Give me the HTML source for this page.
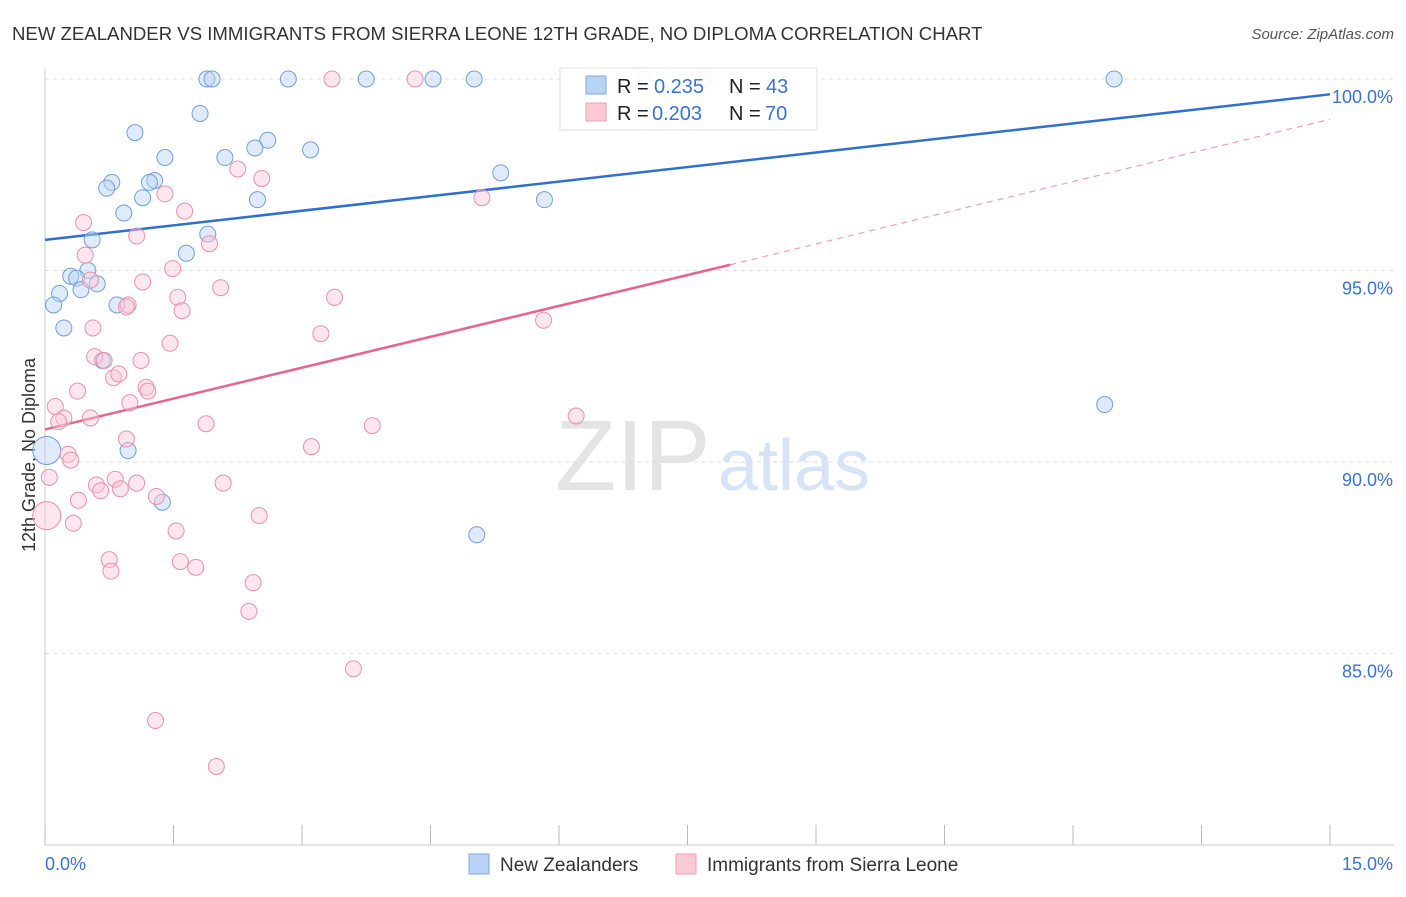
<!DOCTYPE html>
<html><head><meta charset="utf-8"><style>
body{margin:0;background:#fff;font-family:"Liberation Sans",sans-serif;}
svg text{font-family:"Liberation Sans",sans-serif;}
</style></head><body>
<svg width="1406" height="892" id="chart">
<text x="12" y="40" font-size="18.6" fill="#333">NEW ZEALANDER VS IMMIGRANTS FROM SIERRA LEONE 12TH GRADE, NO DIPLOMA CORRELATION CHART</text>
<text x="1394" y="39" font-size="15" fill="#555" text-anchor="end" font-style="italic">Source: ZipAtlas.com</text>
<text x="555" y="490" font-size="100" fill="#e4e4e4" font-family="Liberation Serif">ZIP</text>
<text x="718" y="490" font-size="72" fill="#d6e4f5">atlas</text>
<text transform="translate(35,455) rotate(-90)" font-size="18" fill="#333" text-anchor="middle">12th Grade, No Diploma</text>
<g id="grid"></g><g id="axes"></g><g id="trend"></g><g id="pts"></g>
<g>
<rect x="560" y="68" width="257" height="62" fill="#fff" stroke="#ddd" opacity="0.92"/>
<rect x="586" y="76" width="20" height="18" fill="#b8d3f5" stroke="#7fa9e0"/>
<rect x="586" y="103" width="20" height="18" fill="#fbc8d6" stroke="#eda0b6"/>
<text x="617" y="93" font-size="20" fill="#222">R =</text>
<text x="654" y="93" font-size="20" fill="#3a72d0">0.235</text>
<text x="729" y="93" font-size="20" fill="#222">N =</text>
<text x="766" y="93" font-size="20" fill="#3a72d0">43</text>
<text x="617" y="120" font-size="20" fill="#222">R =</text>
<text x="652" y="120" font-size="20" fill="#3a72d0">0.203</text>
<text x="729" y="120" font-size="20" fill="#222">N =</text>
<text x="765" y="120" font-size="20" fill="#3a72d0">70</text>
</g>
<g>
<rect x="469" y="854" width="20" height="20" fill="#b8d3f5" stroke="#7fa9e0"/>
<text x="500" y="871" font-size="19" fill="#333">New Zealanders</text>
<rect x="676" y="854" width="20" height="20" fill="#fbc8d6" stroke="#eda0b6"/>
<text x="707" y="871" font-size="19" fill="#333">Immigrants from Sierra Leone</text>
</g>
</svg>
<script>
const yTicks=[100,95,90,85];
const xTickLabels=["0.0%","15.0%"];
const blueX=[1.89,1.95,2.84,3.75,4.53,5.01,6.98,7.68,12.48,1.81,1.05,2.6,2.45,3.1,1.4,2.1,0.78,0.72,1.28,1.22,1.14,0.92,2.48,5.32,5.83,1.9,0.55,1.65,0.5,0.3,0.37,0.61,0.42,0.17,0.1,0.22,0.67,0.97,0.84,1.37,5.04,12.37,0.02];
const blueY=[100,100,100,100,100,100,100,100,100,99.1,98.6,98.4,98.2,98.15,97.95,97.95,97.3,97.15,97.35,97.3,96.9,96.5,96.85,97.55,96.85,95.95,95.8,95.45,95.0,94.85,94.8,94.65,94.5,94.4,94.1,93.5,92.65,90.3,94.1,88.95,88.1,91.5,90.3];
const pinkX=[3.35,4.32,7.7,1.4,2.25,2.53,1.63,0.45,1.07,1.92,5.1,0.47,1.49,1.14,0.53,1.55,0.97,0.95,1.6,2.05,3.38,0.56,3.22,1.46,5.82,0.58,0.69,1.12,0.8,0.86,1.18,1.2,0.38,0.99,0.12,0.22,0.53,0.16,1.88,3.82,6.2,0.95,0.27,0.3,3.11,0.05,2.08,0.6,0.82,1.07,0.65,0.88,1.3,0.39,2.5,0.02,0.33,1.53,0.75,0.77,1.58,1.76,2.43,2.38,3.6,1.29,2.0];
const pinkY=[100,100,100,97.0,97.65,97.4,96.55,96.25,95.9,95.7,96.9,95.4,95.05,94.7,94.75,94.3,94.1,94.05,93.95,94.55,94.3,93.5,93.35,93.1,93.7,92.75,92.65,92.65,92.2,92.3,91.95,91.85,91.85,91.55,91.45,91.15,91.15,91.05,91.0,90.95,91.2,90.6,90.2,90.05,90.4,89.6,89.45,89.4,89.55,89.45,89.25,89.3,89.1,89.0,88.6,88.6,88.4,88.2,87.45,87.15,87.4,87.25,86.85,86.1,84.6,83.25,82.05];
const blueLine=[0,95.8,15,99.6];
const pinkLine=[0,90.85,8,95.15,15,98.95];
const NS="http://www.w3.org/2000/svg";
const sx=v=>45+v*(1285/15), sy=v=>79+(100-v)*38.3;
function mk(tag,attrs,parent){const e=document.createElementNS(NS,tag);for(const k in attrs)e.setAttribute(k,attrs[k]);document.getElementById(parent).appendChild(e);return e;}
yTicks.forEach(t=>{
 const l=mk('line',{x1:45,x2:1394,y1:sy(t),y2:sy(t),stroke:'#ddd','stroke-dasharray':'4,4'},'grid');
 
 
 const tx=mk('text',{x:1393,y:sy(t)+24,'font-size':18,fill:'#3a72d0','text-anchor':'end'},'grid');
 tx.textContent=t.toFixed(1)+'%';
 
 
});
mk('line',{x1:45,x2:45,y1:68,y2:845,stroke:'#ccc'},'axes');
mk('line',{x1:45,x2:1394,y1:845,y2:845,stroke:'#ccc'},'axes');
for(let i=0;i<=10;i++){const t=mk('line',{x1:sx(i*1.5),x2:sx(i*1.5),y1:825,y2:845,stroke:'#bbb'},'axes');
 
 }
const xl0=mk('text',{x:45,y:870,'font-size':18,fill:'#3a72d0'},'axes');xl0.textContent=xTickLabels[0];


const xl1=mk('text',{x:1393,y:870,'font-size':18,fill:'#3a72d0','text-anchor':'end'},'axes');xl1.textContent=xTickLabels[1];


function dot(x,y,r,fill,stroke){const c=mk('circle',{cx:sx(x),cy:sy(y),r:r,fill:fill,'fill-opacity':0.45,stroke:stroke,'stroke-width':1},'pts');return c;}
blueX.forEach((x,i)=>{const c=dot(x,blueY[i],i==blueX.length-1?14:8,'#b8d3f5','#6f9fdc');
 
 });
pinkX.forEach((x,i)=>{const c=dot(x,pinkY[i],i==55?14:8,'#fbc8d6','#e891ab');
 
 });
const bl=mk('line',{x1:sx(blueLine[0]),y1:sy(blueLine[1]),x2:sx(blueLine[2]),y2:sy(blueLine[3]),stroke:'#2f6fd0','stroke-width':2.5},'trend');


const pl=mk('line',{x1:sx(pinkLine[0]),y1:sy(pinkLine[1]),x2:sx(pinkLine[2]),y2:sy(pinkLine[3]),stroke:'#e8648f','stroke-width':2.5},'trend');


const pd=mk('line',{x1:sx(pinkLine[2]),y1:sy(pinkLine[3]),x2:sx(pinkLine[4]),y2:sy(pinkLine[5]),stroke:'#eba0b8','stroke-width':1.2,'stroke-dasharray':'6,5'},'trend');


</script>
</body></html>
